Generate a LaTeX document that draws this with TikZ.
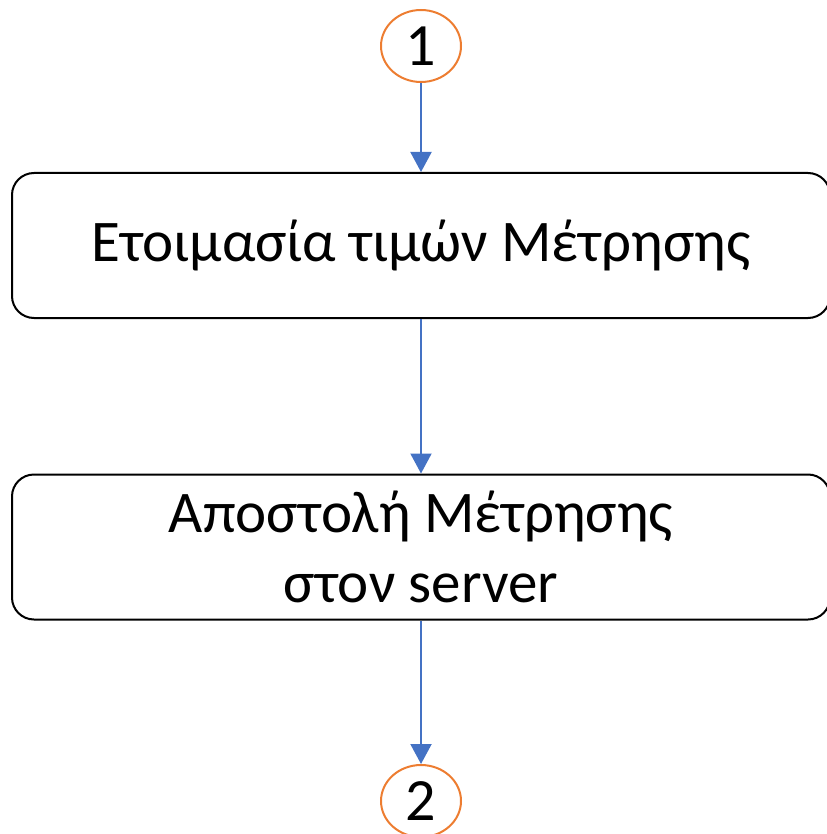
\documentclass[tikz,border=0pt]{standalone}
\usepackage{fontspec}
\setmainfont{Carlito}
\usetikzlibrary{shapes.geometric,arrows.meta}
\definecolor{conorange}{HTML}{ED7D31}
\definecolor{flowblue}{HTML}{4472C4}
\begin{document}
\begin{tikzpicture}[x=1pt,y=-1pt,
  connector/.style={ellipse,draw=conorange,line width=2pt,minimum width=80pt,minimum height=72pt,inner sep=0pt,font=\fontsize{60}{70}\selectfont},
  procbox/.style={rectangle,rounded corners=22pt,draw=black,line width=2pt,minimum width=818pt,minimum height=145pt,inner sep=0pt,align=center,font=\fontsize{59}{70}\selectfont},
  flow/.style={draw=flowblue,line width=2pt,-{Triangle[width=21pt,length=20pt]}}]
\useasboundingbox (0,0) rectangle (826,834);
\node[connector] (c1) at (421,46) {1};
\node[procbox] (b1) at (421,245.5) {Ετοιμασία τιμών Μέτρησης};
\node[procbox] (b2) at (421,547) {Αποστολή Μέτρησης\\στον server};
\node[connector] (c2) at (421,801) {2};
\draw[flow] (c1) -- (b1);
\draw[flow] (b1) -- (b2);
\draw[flow] (b2) -- (c2);
\end{tikzpicture}
\end{document}
